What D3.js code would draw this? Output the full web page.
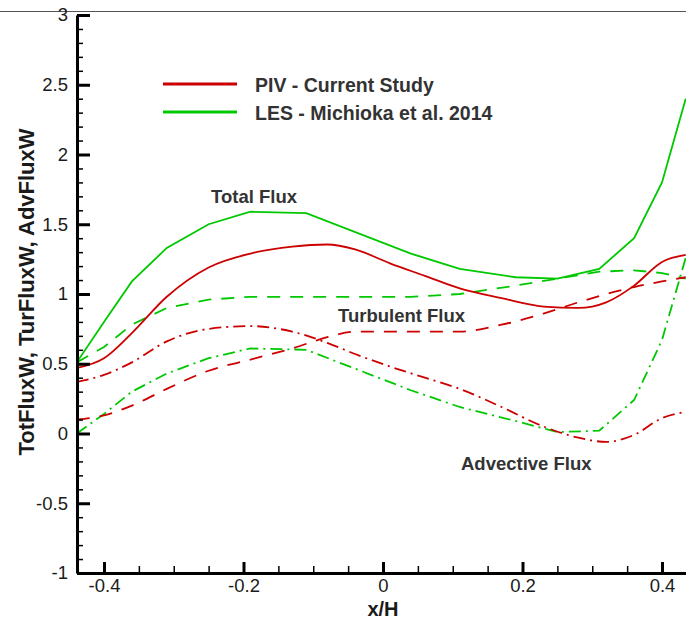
<!DOCTYPE html>
<html>
<head>
<meta charset="utf-8">
<script src="https://cdn.jsdelivr.net/npm/d3@7"></script>
<style>
  html, body { margin: 0; padding: 0; background: #fff; }
  svg { display: block; font-family: "Liberation Sans", Arial, sans-serif; }
</style>
</head>
<body>
<svg id="chart" width="686" height="621"></svg>
<script>
// Stations along x/H
const xPIV = [-0.439, -0.40, -0.36, -0.31, -0.25, -0.19, -0.13, -0.08, -0.04, 0.01, 0.06, 0.11, 0.17, 0.23, 0.28, 0.32, 0.36, 0.40, 0.434];
const xLES = [-0.439, -0.40, -0.36, -0.31, -0.25, -0.19, -0.11, 0.04, 0.11, 0.19, 0.25, 0.31, 0.36, 0.40, 0.434];

// PIV - current study
const pivTotal      = [0.47, 0.54, 0.72, 0.98, 1.19, 1.29, 1.34, 1.355, 1.32, 1.22, 1.13, 1.04, 0.97, 0.91, 0.90, 0.94, 1.06, 1.23, 1.28];
const pivTurbulent  = [0.10, 0.13, 0.20, 0.32, 0.45, 0.53, 0.61, 0.69, 0.73, 0.73, 0.73, 0.73, 0.78, 0.86, 0.94, 1.00, 1.05, 1.09, 1.12];
const pivAdvective  = [0.37, 0.42, 0.51, 0.66, 0.75, 0.77, 0.73, 0.65, 0.57, 0.48, 0.40, 0.32, 0.19, 0.05, -0.03, -0.06, -0.01, 0.11, 0.155];

// LES - Michioka et al. 2014
const lesTotal      = [0.51, 0.80, 1.09, 1.33, 1.50, 1.59, 1.58, 1.29, 1.18, 1.12, 1.11, 1.18, 1.40, 1.80, 2.40];
const lesTurbulent  = [0.51, 0.62, 0.78, 0.90, 0.96, 0.98, 0.98, 0.98, 1.00, 1.06, 1.11, 1.16, 1.17, 1.15, 1.11];
const lesAdvective  = [0.00, 0.14, 0.30, 0.43, 0.54, 0.61, 0.60, 0.31, 0.19, 0.09, 0.01, 0.02, 0.24, 0.67, 1.26];

const xMajorTicks = [-0.4, -0.2, 0, 0.2, 0.4];
const xTickLabels = ["-0.4", "-0.2", "0", "0.2", "0.4"];
const yMajorTicks = [-1, -0.5, 0, 0.5, 1, 1.5, 2, 2.5, 3];
const yTickLabels = ["-1", "-0.5", "0", "0.5", "1", "1.5", "2", "2.5", "3"];

const legendLabels = ["PIV - Current Study", "LES - Michioka et al. 2014"];
const RED = "#cc0000", GREEN = "#00c800";

const svg = d3.select("#chart");
const plotLeft = 77, plotRight = 686, plotTop = 15, plotBottom = 573;

const x = d3.scaleLinear().domain([-0.4387, 0.4344]).range([plotLeft, plotRight]);
const y = d3.scaleLinear().domain([-1, 3]).range([plotBottom, plotTop]);

// thin frame line across the top
svg.append("line").attr("x1", 0).attr("x2", 686).attr("y1", 11.5).attr("y2", 11.5)
  .attr("stroke", "#555").attr("stroke-width", 1.2);

svg.append("clipPath").attr("id", "plotClip").append("rect")
  .attr("x", plotLeft).attr("y", plotTop - 5)
  .attr("width", plotRight - plotLeft).attr("height", plotBottom - plotTop + 5);

const plot = svg.append("g").attr("clip-path", "url(#plotClip)");

const series = [
  { xs: xLES, ys: lesTotal,     color: GREEN, dash: null,       curve: d3.curveLinear },
  { xs: xLES, ys: lesTurbulent, color: GREEN, dash: "13,10",    curve: d3.curveLinear },
  { xs: xLES, ys: lesAdvective, color: GREEN, dash: "12,5,2,5", curve: d3.curveLinear },
  { xs: xPIV, ys: pivTotal,     color: RED,   dash: null,       curve: d3.curveMonotoneX },
  { xs: xPIV, ys: pivTurbulent, color: RED,   dash: "13,10",    curve: d3.curveMonotoneX },
  { xs: xPIV, ys: pivAdvective, color: RED,   dash: "12,5,2,5", curve: d3.curveMonotoneX }
];

series.forEach(s => {
  const line = d3.line().x(d => x(d[0])).y(d => y(d[1])).curve(s.curve);
  plot.append("path")
    .datum(s.xs.map((v, i) => [v, s.ys[i]]))
    .attr("d", line)
    .attr("fill", "none")
    .attr("stroke", s.color)
    .attr("stroke-width", 1.8)
    .attr("stroke-dasharray", s.dash);
});

// Axes
const tickFont = 18.5;
const yMinor = d3.range(-1, 3.0001, 0.1).map(v => +v.toFixed(2)).filter(v => !yMajorTicks.includes(v));
const xMinor = d3.range(-0.4, 0.4001, 0.05).map(v => +v.toFixed(2)).filter(v => !xMajorTicks.includes(v));

const yMinorAxis = svg.append("g").attr("transform", `translate(${plotLeft},0)`)
  .call(d3.axisLeft(y).tickValues(yMinor).tickSizeInner(-6).tickSizeOuter(0).tickFormat(""));
yMinorAxis.select(".domain").remove();
yMinorAxis.selectAll("line").attr("stroke", "#000").attr("stroke-width", 1.5);

const xMinorAxis = svg.append("g").attr("transform", `translate(0,${plotBottom})`)
  .call(d3.axisBottom(x).tickValues(xMinor).tickSizeInner(-7).tickSizeOuter(0).tickFormat(""));
xMinorAxis.select(".domain").remove();
xMinorAxis.selectAll("line").attr("stroke", "#000").attr("stroke-width", 1.5);

const yAxis = svg.append("g").attr("transform", `translate(${plotLeft},0)`)
  .call(d3.axisLeft(y).tickValues(yMajorTicks).tickSizeInner(-13).tickSizeOuter(0).tickPadding(9)
    .tickFormat((d, i) => yTickLabels[i]));
yAxis.attr("font-family", null).attr("font-size", null);
yAxis.selectAll("line").attr("stroke", "#000").attr("stroke-width", 3);
yAxis.select(".domain").attr("stroke", "#000").attr("stroke-width", 3);
yAxis.selectAll("text").attr("font-size", tickFont).attr("fill", "#1a1a1a");

const xAxis = svg.append("g").attr("transform", `translate(0,${plotBottom})`)
  .call(d3.axisBottom(x).tickValues(xMajorTicks).tickSizeInner(-11).tickSizeOuter(0).tickPadding(6)
    .tickFormat((d, i) => xTickLabels[i]));
xAxis.attr("font-family", null).attr("font-size", null);
xAxis.selectAll("line").attr("stroke", "#000").attr("stroke-width", 3);
xAxis.select(".domain").attr("stroke", "#000").attr("stroke-width", 3);
xAxis.selectAll("text").attr("font-size", tickFont).attr("fill", "#1a1a1a");

// Axis titles
svg.append("text").attr("x", x(0)).attr("y", 616).attr("text-anchor", "middle")
  .attr("font-size", 20).attr("font-weight", "bold").attr("fill", "#1a1a1a").text("x/H");

svg.append("text").attr("transform", "translate(34,292) rotate(-90)")
  .attr("text-anchor", "middle").attr("font-size", 22).attr("font-weight", "bold").attr("fill", "#1a1a1a")
  .text("TotFluxW, TurFluxW, AdvFluxW");

// Legend
const legend = svg.append("g");
[RED, GREEN].forEach((c, i) => {
  const ly = 84 + i * 28;
  legend.append("line").attr("x1", 163).attr("x2", 237).attr("y1", ly).attr("y2", ly)
    .attr("stroke", c).attr("stroke-width", 3);
  legend.append("text").attr("x", 255).attr("y", ly + 8).attr("font-size", 19.5)
    .attr("font-weight", "bold").attr("fill", "#333").text(legendLabels[i]);
});

// Curve annotations
const notes = [
  { t: "Total Flux", x: 211, y: 203 },
  { t: "Turbulent Flux", x: 338, y: 322 },
  { t: "Advective Flux", x: 461, y: 470 }
];
notes.forEach(n => svg.append("text").attr("x", n.x).attr("y", n.y).attr("font-size", 18.5)
  .attr("font-weight", "bold").attr("fill", "#333").text(n.t));
</script>
</body>
</html>
